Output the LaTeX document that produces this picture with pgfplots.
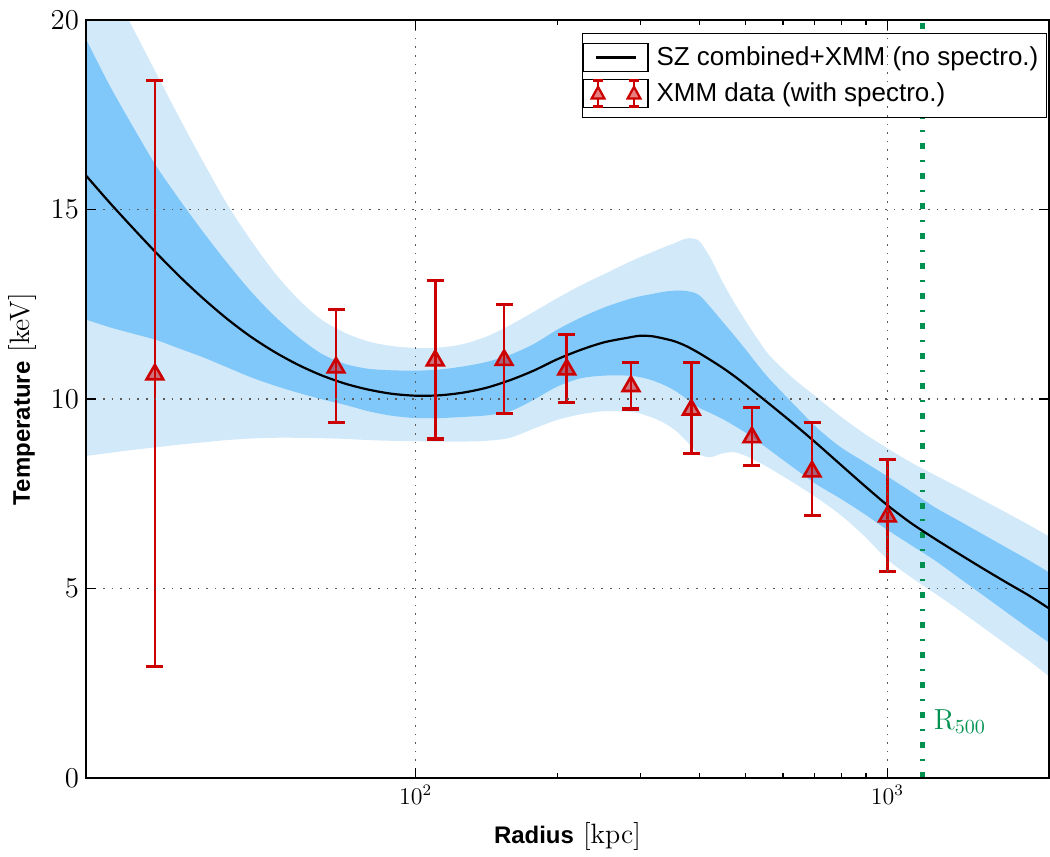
\documentclass[border=0pt]{standalone}
\usepackage{fontspec}
\newfontfamily\hv{Liberation Sans}
\usepackage{pgfplots}
\usepackage{pgfplotstable}
\pgfplotsset{compat=1.18}
\usepgfplotslibrary{fillbetween}
\definecolor{bandtwo}{RGB}{210,233,249}
\definecolor{bandone}{RGB}{128,200,250}
\definecolor{errred}{RGB}{204,0,0}
\definecolor{rgreen}{RGB}{0,145,80}

% columns: r [kpc], mid (best fit), lo1/hi1 (inner band), lo2/hi2 (outer band)
\pgfplotstableread{
r      mid    hione  loone  hitwo  lotwo
20     15.90  19.50  12.10  22.10  8.50
22.39  15.20  18.30  11.90  21.00  8.58
25.12  14.52  17.20  11.73  19.80  8.66
28.18  13.86  16.15  11.56  18.60  8.73
31.62  13.23  15.25  11.33  17.40  8.80
35.48  12.65  14.40  11.10  16.25  8.86
39.81  12.12  13.60  10.84  15.15  8.92
44.67  11.65  12.85  10.58  14.20  8.96
50.12  11.25  12.20  10.36  13.35  8.98
56.23  10.91  11.65  10.17  12.65  8.98
63.10  10.63  11.20  10.00  12.10  8.97
70.79  10.41  10.93   9.85  11.75  8.95
79.43  10.25  10.80   9.68  11.52  8.92
89.13  10.14  10.76   9.56  11.40  8.90
100.0  10.09  10.75   9.50  11.35  8.89
112.2  10.10  10.78   9.50  11.36  8.88
125.9  10.17  10.86   9.53  11.45  8.88
141.3  10.30  10.98   9.57  11.65  8.90
158.5  10.50  11.17   9.68  11.95  8.98
177.8  10.75  11.45   9.98  12.30  9.22
199.5  11.05  11.83  10.33  12.66  9.45
223.9  11.30  12.15  10.55  13.00  9.60
251.2  11.50  12.42  10.62  13.30  9.68
281.8  11.62  12.63  10.62  13.60  9.67
298.5  11.67  12.71  10.58  13.74  9.62
316.2  11.66  12.77  10.50  13.87  9.52
335.0  11.60  12.83  10.38  14.00  9.38
354.8  11.52  12.86  10.22  14.12  9.18
375.8  11.39  12.85  10.00  14.24  8.88
398.1  11.22  12.75   9.78  14.18  8.55
421.7  11.03  12.42   9.63  13.72  8.47
446.7  10.83  12.05   9.48  13.10  8.57
473.2  10.61  11.68   9.30  12.55  8.60
501.2  10.37  11.30   9.11  12.05  8.50
530.9  10.12  10.90   8.89  11.58  8.35
562.3   9.87  10.53   8.66  11.15  8.18
631.0   9.36   9.88   8.20  10.55  7.80
707.9   8.83   9.25   7.75  10.05  7.40
794.3   8.28   8.74   7.38   9.55  6.95
891.3   7.73   8.35   6.98   9.10  6.40
1000    7.20   7.96   6.55   8.70  5.77
1122    6.73   7.56   6.15   8.33  5.30
1259    6.32   7.15   5.75   8.00  4.88
1413    5.93   6.80   5.30   7.68  4.45
1585    5.55   6.45   4.85   7.35  4.00
1778    5.18   6.10   4.40   7.02  3.55
1995    4.82   5.75   3.95   6.68  3.10
2200    4.48   5.43   3.58   6.38  2.69
}\curves

\pgfplotstableread{
r T ep em
28 10.65 7.75 7.70
67.8 10.83 1.53 1.45
110 11.02 2.10 2.07
154 11.03 1.47 1.40
209 10.78 0.92 0.86
286 10.34 0.63 0.60
384 9.72 1.25 1.16
516 8.99 0.79 0.74
692 8.09 1.29 1.16
1000 6.90 1.51 1.45
}\xmmdata

\begin{document}
\begin{tikzpicture}
\begin{axis}[
  scale only axis, width=482pt, height=379.5pt,
  xmode=log, xmin=20, xmax=2200, ymin=0, ymax=20,
  xtick={100,1000}, xticklabels={$10^2$,$10^3$},
  ytick={0,5,10,15,20},
  tick align=inside, xtick pos=both, ytick pos=both,
  major tick length=5pt, minor tick length=2.5pt,
  tick style={black, line width=0.7pt},
  axis line style={line width=1pt},
  grid=major,
  major grid style={black!65, line width=0.8pt, dash pattern=on 0.8pt off 3.5pt},
  axis on top,
  yticklabel style={font=\fontsize{13.5}{16}\selectfont},
  xticklabel style={font=\fontsize{11.5}{14}\selectfont},
  xlabel={{\hv\fontsize{12}{14}\selectfont\bfseries Radius} [kpc]},
  ylabel={{\hv\fontsize{12}{14}\selectfont\bfseries Temperature} [keV]},
  label style={font=\fontsize{14}{16}\selectfont},
  xlabel shift=2pt,
  legend style={at={(rel axis cs:1,1)}, anchor=north east, xshift=-1pt, yshift=-6.5pt,
    draw=black, line width=0.6pt, font=\hv\fontsize{13}{15}\selectfont,
    row sep=3pt, inner xsep=0pt, inner ysep=4.5pt,
    nodes={inner xsep=4pt}},
  legend cell align=left,
]
\addplot[draw=none, name path=hitwo, smooth, forget plot] table[x=r,y=hitwo] {\curves};
\addplot[draw=none, name path=lotwo, smooth, forget plot] table[x=r,y=lotwo] {\curves};
\addplot[draw=none, name path=hione, smooth, forget plot] table[x=r,y=hione] {\curves};
\addplot[draw=none, name path=loone, smooth, forget plot] table[x=r,y=loone] {\curves};
\addplot[bandtwo, forget plot] fill between[of=hitwo and lotwo];
\addplot[bandone, forget plot] fill between[of=hione and loone];

\addplot[rgreen, line width=2.5pt, dash pattern=on 3pt off 5.5pt on 1pt off 5.5pt, forget plot]
  coordinates {(1187,0) (1187,20)};

\addplot[black, line width=1.1pt, smooth, forget plot] table[x=r,y=mid] {\curves};

\addplot[errred, only marks, mark=triangle*, mark size=4.8pt, forget plot,
  mark options={fill=errred, fill opacity=0.5, draw=errred, line width=1.3pt},
  error bars/.cd, y dir=both, y explicit,
  error bar style={line width=1.3pt, errred},
  error mark options={errred, line width=1.6pt, mark size=4.25pt, rotate=90}]
  table[x=r, y=T, y error plus=ep, y error minus=em] {\xmmdata};

\node[anchor=base west, inner sep=0pt, text=rgreen, font=\fontsize{14.5}{16}\selectfont, xshift=5.5pt]
  at (axis cs:1187,1.29) {$\mathrm{R}_{500}$};

\addlegendimage{legend image code/.code={
  \path (0pt,-7pt) rectangle (32.5pt,7pt);
  \draw[black, line width=1.1pt] (6.5pt,0pt) -- (26.5pt,0pt);}}
\addlegendentry{SZ combined+XMM (no spectro.)}
\addlegendimage{legend image code/.code={
  \path (0pt,-7pt) rectangle (32.5pt,7pt);
  \foreach \xx in {7.5pt,25.5pt}{
    \draw[errred, line width=1.2pt] (\xx,-6.5pt) -- (\xx,6.5pt);
    \draw[errred, line width=1.4pt] ([xshift=-2.5pt]\xx,-6.5pt) -- ([xshift=2.5pt]\xx,-6.5pt);
    \draw[errred, line width=1.4pt] ([xshift=-2.5pt]\xx,6.5pt) -- ([xshift=2.5pt]\xx,6.5pt);
    \draw[errred, fill=errred!50, line width=1.1pt] ([xshift=-3.2pt]\xx,-2.6pt) -- ([xshift=3.2pt]\xx,-2.6pt) -- ([yshift=3.2pt]\xx,0pt) -- cycle;
  }}}
\addlegendentry{XMM data (with spectro.)}
\end{axis}
\path ([yshift=10pt]current axis.north) ([xshift=-43pt]current axis.south west);
\end{tikzpicture}
\end{document}
